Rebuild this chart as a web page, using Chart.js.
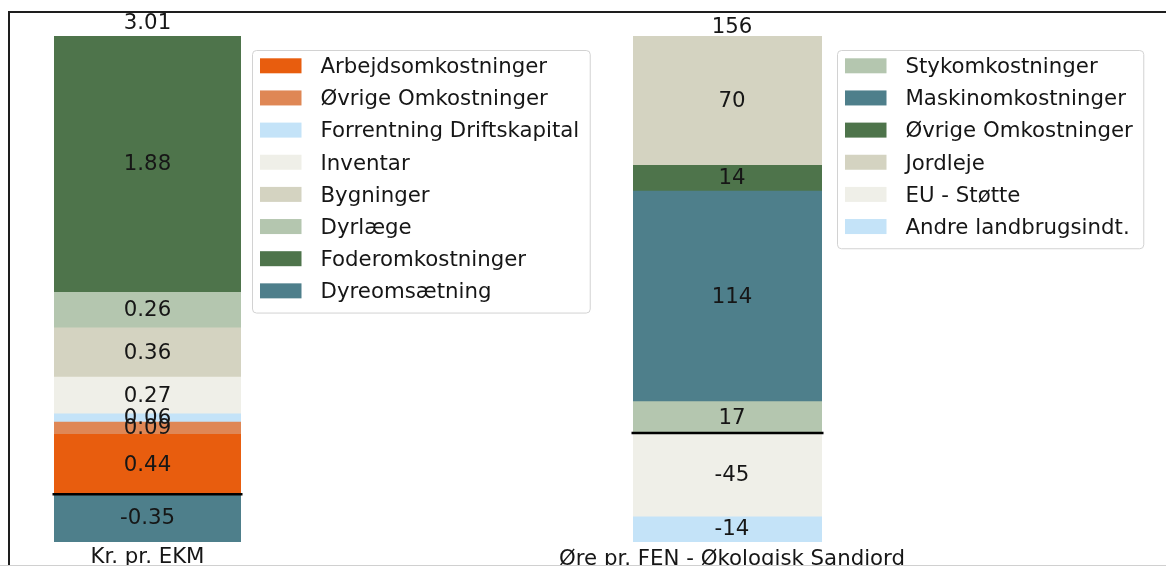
<!DOCTYPE html>
<html lang="da">
<head>
<meta charset="UTF-8">
<title>Omkostninger</title>
<script src="https://cdn.jsdelivr.net/npm/chart.js"></script>
<style>
    html, body { margin: 0; padding: 0; background: #fff; }
    .wrap { position: relative; width: 1166px; height: 568px; overflow: hidden; }
    .wrap canvas { position: absolute; left: 0; top: 0; }
    .frame {
        position: absolute; left: 8px; top: 11px; width: 1170px; height: 553px;
        border-top: 2px solid #1e1e1e; border-left: 2px solid #1e1e1e;
        pointer-events: none;
    }
    .cut {
        position: absolute; left: 0; top: 565px; width: 1166px; height: 3px;
        background: #fff; border-top: 1px solid #d0d0d0;
    }
</style>
</head>
<body>
<div class="wrap">
    <canvas id="venstre" width="1166" height="568"></canvas>
    <canvas id="hoejre" width="1166" height="568"></canvas>
    <div class="frame"></div>
    <div class="cut"></div>
</div>

<script>
    // Venstre søjle: kr. pr. EKM
    const leftCategory = ['Kr. pr. EKM'];
    const leftSeries = ['Arbejdsomkostninger', 'Øvrige Omkostninger', 'Forrentning Driftskapital', 'Inventar',
        'Bygninger', 'Dyrlæge', 'Foderomkostninger', 'Dyreomsætning'];
    const leftValues = [0.44, 0.09, 0.06, 0.27, 0.36, 0.26, 1.88, -0.35];

    // Højre søjle: øre pr. FEN
    const rightCategory = ['Øre pr. FEN - Økologisk Sandjord'];
    const rightSeries = ['Stykomkostninger', 'Maskinomkostninger', 'Øvrige Omkostninger', 'Jordleje',
        'EU - Støtte', 'Andre landbrugsindt.'];
    const rightValues = [17, 114, 14, 70, -45, -14];

    const leftColors = ['#e85d0e', '#df8755', '#c4e3f8', '#efefe8', '#d4d3c1', '#b4c6af', '#4e744b', '#4e7f8b'];
    const rightColors = ['#b4c6af', '#4e7f8b', '#4e744b', '#d4d3c1', '#efefe8', '#c4e3f8'];

    const FONT_PX = 21.3;
    const FONT = FONT_PX + 'px "DejaVu Sans"';
    const CAP = FONT_PX * 0.729;
    const INK = '#161616';

    // tekster, nul-linje og legende tegnes oven på søjlerne
    const annotations = {
        id: 'annotations',
        afterDatasetsDraw(chart, args, opts) {
            const ctx = chart.ctx;
            const area = chart.chartArea;
            const dx = opts.textDx || 0;
            ctx.save();
            ctx.font = FONT;
            ctx.fillStyle = INK;
            ctx.textAlign = 'center';

            let x = 0, w = 0, top = Infinity;
            chart.data.datasets.forEach((ds, i) => {
                chart.getDatasetMeta(i).data.forEach((bar, j) => {
                    const p = bar.getProps(['x', 'y', 'base', 'width'], true);
                    const mid = (p.y + p.base) / 2;
                    ctx.fillText(ds.data[j].toFixed(opts.decimals), p.x + dx, mid + CAP / 2 - 1.5);
                    x = p.x; w = p.width;
                    top = Math.min(top, p.y, p.base);
                });
            });

            // nul-linje
            const y0 = chart.scales.y.getPixelForValue(0);
            ctx.strokeStyle = '#000';
            ctx.lineWidth = 2.5;
            ctx.beginPath();
            ctx.moveTo(x - w / 2 - 1.5, y0);
            ctx.lineTo(x + w / 2 + 1.5, y0);
            ctx.stroke();

            // total over søjlen og kategori under
            const total = chart.data.datasets.reduce((s, ds) => s + ds.data[0], 0);
            ctx.fillText(total.toFixed(opts.decimals), x + dx, top - opts.totalGap);
            ctx.fillText(chart.data.labels[0], x + dx, area.bottom + opts.labelGap);

            // legende med ramme
            const lx = opts.legendX, ly = opts.legendY, step = 32.15;
            ctx.textAlign = 'left';
            let maxW = 0;
            chart.data.datasets.forEach(ds => { maxW = Math.max(maxW, ctx.measureText(ds.label).width); });
            const bw = 68 + maxW + 11;
            const bh = 16 + (chart.data.datasets.length - 1) * step + 21.5;
            ctx.fillStyle = 'rgba(255,255,255,0.8)';
            ctx.strokeStyle = '#d2d2d2';
            ctx.lineWidth = 1;
            ctx.beginPath();
            ctx.roundRect(lx + 0.5, ly + 0.5, bw, bh, 4);
            ctx.fill();
            ctx.stroke();
            chart.data.datasets.forEach((ds, i) => {
                const cy = ly + 15.8 + i * step;
                ctx.fillStyle = ds.backgroundColor;
                ctx.fillRect(lx + 8, cy - 7.5, 41.5, 15);
                ctx.fillStyle = INK;
                ctx.fillText(ds.label, lx + 68.5, cy + CAP / 2 - 0.5);
            });
            ctx.restore();
        }
    };

    function makeChart(id, labels, series, values, colors, pad, opts) {
        const datasets = series.map((name, i) => ({
            label: name,
            data: [values[i]],
            backgroundColor: colors[i],
            borderWidth: 0,
            barPercentage: 1,
            categoryPercentage: 1
        }));
        const lo = values.filter(v => v < 0).reduce((a, b) => a + b, 0);
        const hi = values.filter(v => v > 0).reduce((a, b) => a + b, 0);
        return new Chart(document.getElementById(id), {
            type: 'bar',
            data: { labels: labels, datasets: datasets },
            options: {
                responsive: false,
                animation: false,
                layout: { padding: pad },
                scales: {
                    x: { stacked: true, display: false },
                    y: { stacked: true, display: false, min: lo, max: hi }
                },
                plugins: {
                    legend: { display: false },
                    tooltip: { enabled: false },
                    annotations: opts
                }
            },
            plugins: [annotations]
        });
    }

    makeChart('venstre', leftCategory, leftSeries, leftValues, leftColors,
        { left: 54, right: 925, top: 36, bottom: 26 },
        { decimals: 2, totalGap: 6.7, labelGap: 20.7, legendX: 252, legendY: 50 });

    makeChart('hoejre', rightCategory, rightSeries, rightValues, rightColors,
        { left: 633, right: 344, top: 36, bottom: 26 },
        { decimals: 0, totalGap: 2.7, labelGap: 23.3, legendX: 837, legendY: 50, textDx: 4.5 });
</script>
</body>
</html>
